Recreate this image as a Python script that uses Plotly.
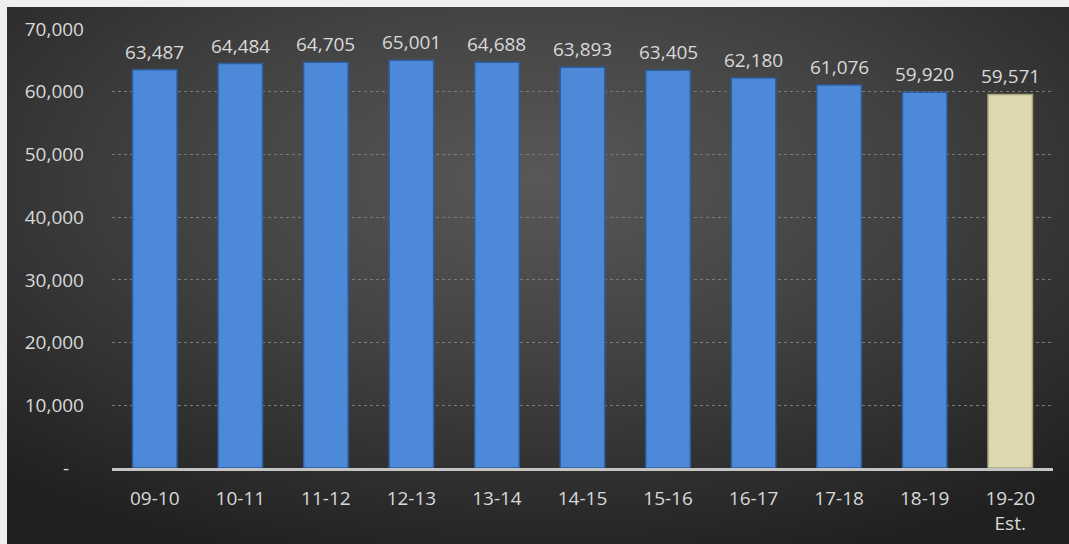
import plotly.graph_objects as go
from urllib.parse import quote

categories = ["09-10", "10-11", "11-12", "12-13", "13-14", "14-15", "15-16",
              "16-17", "17-18", "18-19", "19-20<br>Est."]
values = [63487, 64484, 64705, 65001, 64688, 63893, 63405, 62180, 61076, 59920, 59571]
bar_colors = ["#4d89d9"] * 10 + ["#ddd8ae"]
line_colors = ["#2f5e9e"] * 10 + ["#a9a47f"]
y_tickvals = [0, 10000, 20000, 30000, 40000, 50000, 60000, 70000]
y_ticktext = ["-\u00a0\u00a0\u00a0", "10,000", "20,000", "30,000", "40,000",
              "50,000", "60,000", "70,000"]

W, H = 1069, 544
ML, MR, MT, MB = 112, 16, 29, 76
PW, PH = W - ML - MR, H - MT - MB
FONT = "Open Sans"
TXT = "#d9d9d9"

svg = (
    "<svg xmlns='http://www.w3.org/2000/svg' viewBox='0 0 1062 537' width='1062' height='537' preserveAspectRatio='none'>"
    "<defs><radialGradient id='g' cx='50%' cy='32%' r='75%'>"
    "<stop offset='0' stop-color='#585858'/>"
    "<stop offset='0.45' stop-color='#424242'/>"
    "<stop offset='1' stop-color='#202020'/>"
    "</radialGradient></defs>"
    "<rect width='1062' height='537' fill='url(#g)'/></svg>"
)
bg_src = "data:image/svg+xml;charset=utf-8," + quote(svg)

fig = go.Figure()
fig.add_trace(go.Bar(
    x=categories, y=values,
    marker=dict(color=bar_colors, line=dict(color=line_colors, width=1.5)),
    width=0.52,
    hoverinfo="skip",
))

for c, v in zip(categories, values):
    fig.add_annotation(
        x=c, y=v, text=f"{v:,}", showarrow=False,
        yanchor="bottom", yshift=3,
        font=dict(family=FONT, size=19, color=TXT),
    )

fig.update_layout(
    width=W, height=H,
    margin=dict(l=ML, r=MR, t=MT, b=MB, autoexpand=False),
    paper_bgcolor="#f0f0f0",
    plot_bgcolor="rgba(0,0,0,0)",
    showlegend=False,
    images=[dict(
        source=bg_src, xref="paper", yref="paper",
        x=(7 - ML) / PW, y=1 + (MT - 7) / PH,
        sizex=(W - 7) / PW, sizey=(H - 7) / PH,
        xanchor="left", yanchor="top", sizing="stretch", layer="below",
    )],
    xaxis=dict(
        type="category", automargin=False,
        showgrid=False, zeroline=False,
        showline=True, linecolor="#c4c4c4", linewidth=3,
        ticks="", ticklabelstandoff=11,
        tickfont=dict(family=FONT, size=19, color=TXT),
    ),
    yaxis=dict(
        automargin=False,
        range=[0, 70000],
        tickvals=y_tickvals, ticktext=y_ticktext,
        showgrid=True, gridcolor="#7a7a7a", griddash="dot", gridwidth=1,
        zeroline=False, showline=False,
        ticks="", ticklabelstandoff=27,
        tickfont=dict(family=FONT, size=19, color=TXT),
    ),
)

fig.write_html("out.html")
